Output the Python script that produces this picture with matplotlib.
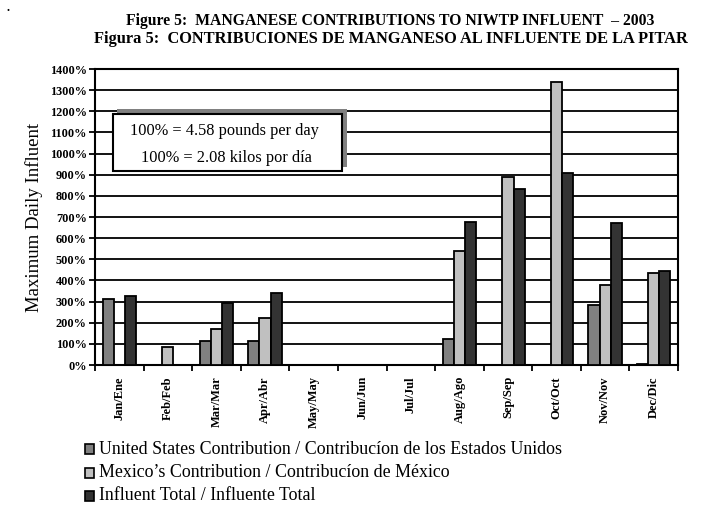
import matplotlib
matplotlib.use("Agg")
import matplotlib.pyplot as plt
import numpy as np
from matplotlib.patches import Rectangle
from matplotlib.ticker import FixedLocator, FuncFormatter

plt.rcParams['font.family'] = ['Liberation Serif', 'DejaVu Serif']

months = ["Jan/Ene", "Feb/Feb", "Mar/Mar", "Apr/Abr", "May/May", "Jun/Jun",
          "Jul/Jul", "Aug/Ago", "Sep/Sep", "Oct/Oct", "Nov/Nov", "Dec/Dic"]
us_contrib = [310, 0, 115, 112, 0, 0, 0, 124, 0, 0, 282, 5]
mexico_contrib = [0, 87, 170, 220, 0, 0, 0, 538, 888, 1340, 377, 434]
influent_total = [325, 0, 295, 340, 0, 0, 0, 678, 831, 908, 673, 443]

series_labels = ["United States Contribution / Contribucíon de los Estados Unidos",
                 "Mexico\u2019s Contribution / Contribucíon de México",
                 "Influent Total / Influente Total"]
series_colors = ["#808080", "#c0c0c0", "#333333"]

W, H = 714, 512
fig = plt.figure(figsize=(W / 100, H / 100), dpi=100)
fig.patch.set_facecolor("white")

def px(x0, y0, x1, y1):
    return [x0 / W, 1 - y1 / H, (x1 - x0) / W, (y1 - y0) / H]

ax = fig.add_axes(px(95, 69, 678, 365))
x = np.arange(len(months))
bw = 0.23
for i, (vals, col) in enumerate(zip([us_contrib, mexico_contrib, influent_total], series_colors)):
    v = np.array(vals, dtype=float)
    mask = v > 0
    ax.bar(x[mask] + (i - 1) * bw, v[mask], width=bw, color=col,
           edgecolor="black", linewidth=1.3, zorder=3)

ax.set_xlim(-0.5, len(months) - 0.5)
ax.set_ylim(0, 1400)
ax.yaxis.set_major_locator(FixedLocator(np.arange(0, 1401, 100)))
ax.yaxis.set_major_formatter(FuncFormatter(lambda v, p: f"{int(v)}%"))
ax.grid(axis="y", color="black", linewidth=1.3, zorder=1)
ax.set_axisbelow(True)

ax.set_xticks(x)
ax.set_xticklabels(months, rotation=90, fontsize=9, fontweight="bold")
ax.set_xticks(np.arange(-0.5, len(months)), minor=True)
ax.tick_params(axis="x", which="major", length=0, pad=8)
ax.tick_params(axis="x", which="minor", length=4, width=1.3, direction="out")
ax.tick_params(axis="y", length=4, width=1.3, direction="out", labelsize=8.8, pad=2)
for lab in ax.get_yticklabels():
    lab.set_fontweight("bold")
for s in ax.spines.values():
    s.set_linewidth(1.5)
    s.set_color("black")

ax.set_ylabel("Maximum Daily Influent", fontsize=13.5, labelpad=5)

# Conversion note with offset shadow
fig.patches.append(Rectangle((117 / W, 1 - 167 / H), 230 / W, 58 / H,
                             transform=fig.transFigure, facecolor="#808080",
                             edgecolor="none", zorder=5))
fig.patches.append(Rectangle((113 / W, 1 - 171 / H), 229 / W, 57 / H,
                             transform=fig.transFigure, facecolor="white",
                             edgecolor="black", linewidth=1.5, zorder=6))
fig.text(224 / W, 1 - 131 / H, "100% = 4.58 pounds per day", ha="center", va="center",
         fontsize=11.8, zorder=7)
fig.text(226 / W, 1 - 158 / H, "100% = 2.08 kilos por día", ha="center", va="center",
         fontsize=11.8, zorder=7)

# Titles
fig.text(390 / W, 1 - 21 / H, "Figure 5:  MANGANESE CONTRIBUTIONS TO NIWTP INFLUENT  \u2013 2003",
         ha="center", va="center", fontsize=11.3, fontweight="bold")
fig.text(391 / W, 1 - 39 / H, "Figura 5:  CONTRIBUCIONES DE MANGANESO AL INFLUENTE DE LA PITAR",
         ha="center", va="center", fontsize=11.8, fontweight="bold")
fig.text(8 / W, 1 - 8 / H, ".", ha="center", va="center", fontsize=9, fontweight="bold")

# Legend drawn as stacked rows
for i, (lab, col) in enumerate(zip(series_labels, series_colors)):
    yc = 449 + i * 23.5
    fig.patches.append(Rectangle((85 / W, 1 - (yc + 5) / H), 9 / W, 10 / H,
                                 transform=fig.transFigure, facecolor=col,
                                 edgecolor="black", linewidth=1.2))
    fig.text(99 / W, 1 - yc / H, lab, ha="left", va="center", fontsize=12.9)

fig.savefig("out.png", dpi=100)
